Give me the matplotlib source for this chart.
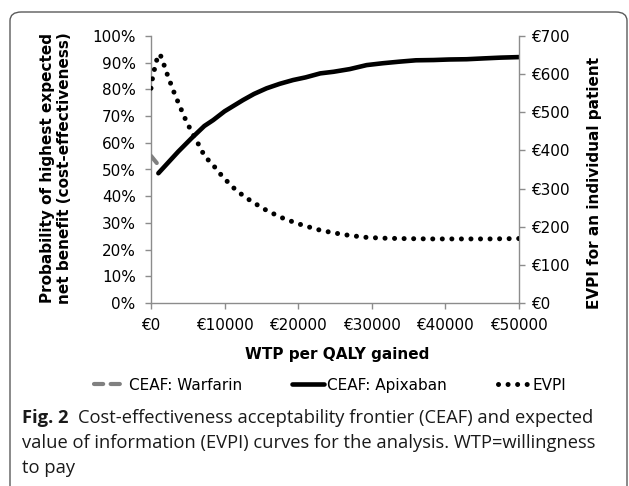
import matplotlib
matplotlib.use("Agg")
import matplotlib.pyplot as plt
from matplotlib.patches import FancyBboxPatch
from matplotlib.ticker import FuncFormatter, MultipleLocator
import numpy as np

# ---------------- data ----------------
wtp_warfarin = [0, 1000]
prob_warfarin = [0.551, 0.517]

wtp_apixaban = [1000, 3700, 5500, 7250, 8450, 10000, 12500, 14000, 15700, 17500,
                19300, 21000, 23000, 24800, 27000, 29300, 31500, 33800, 36000,
                38400, 40500, 42900, 45100, 47500, 50000]
prob_apixaban = [0.486, 0.567, 0.617, 0.663, 0.685, 0.718, 0.760, 0.783, 0.804, 0.821,
                 0.835, 0.845, 0.860, 0.866, 0.876, 0.891, 0.898, 0.904, 0.909,
                 0.910, 0.912, 0.913, 0.916, 0.919, 0.921]

wtp_evpi = [0, 160, 430, 680, 1220, 1670, 2080, 2490, 2950, 3400, 3900, 4390, 4930,
            5530, 6120, 6760, 7250, 8250, 9820, 11640, 13680, 15860, 18200, 20600,
            22960, 24770, 27000, 29300, 31500, 33800, 38000, 42000, 46000, 50000]
evpi = [563, 585, 609, 633, 653, 630, 606, 585, 561, 539, 517, 494, 471,
        449, 427, 406, 385, 366, 329, 294, 266, 241, 220, 204,
        191, 184, 177, 172, 170, 169, 168, 168, 168, 169]

x_ticks = [0, 10000, 20000, 30000, 40000, 50000]
series_labels = ["CEAF: Warfarin", "CEAF: Apixaban", "EVPI"]
left_label = "Probability of highest expected\nnet benefit (cost-effectiveness)"
right_label = "EVPI for an individual patient"
x_label = "WTP per QALY gained"
caption_bold = "Fig. 2"
caption_lines = ["Cost-effectiveness acceptability frontier (CEAF) and expected",
                 "value of information (EVPI) curves for the analysis. WTP=willingness",
                 "to pay"]

# ---------------- figure ----------------
W, H = 629, 486
fig = plt.figure(figsize=(W / 100, H / 100), dpi=100)

def fx(px):
    return px / W

def fy(py):
    return 1 - py / H

# rounded frame
frame = FancyBboxPatch((fx(10), fy(520)), fx(627) - fx(10), fy(12) - fy(520),
                       boxstyle="round,pad=0,rounding_size=0.018",
                       transform=fig.transFigure, fill=False,
                       edgecolor="#5a5a5a", linewidth=1.0, clip_on=False)
fig.patches.append(frame)

ax = fig.add_axes([fx(151), fy(303), fx(519) - fx(151), fy(36) - fy(303)])
ax2 = ax.twinx()

spine_col = "#8c8c8c"

ax.plot(wtp_warfarin, prob_warfarin, color="#808080", lw=3.0,
        linestyle=(0, (2.2, 1.8)), dash_capstyle="round", solid_capstyle="round",
        label=series_labels[0], zorder=3)
ax.plot(wtp_apixaban, prob_apixaban, color="black", lw=3.3,
        solid_capstyle="round", label=series_labels[1], zorder=3)
ax2.plot(wtp_evpi, evpi, color="black", lw=3.6, linestyle=(0, (0.01, 1.9)),
         dash_capstyle="round", label=series_labels[2], zorder=3)

ax.set_xlim(0, 50000)
ax.set_ylim(0, 1.0)
ax2.set_ylim(0, 700)
ax.set_xticks(x_ticks)
ax.xaxis.set_major_formatter(FuncFormatter(lambda v, p: "€%d" % v))
ax.yaxis.set_major_locator(MultipleLocator(0.1))
ax.yaxis.set_major_formatter(FuncFormatter(lambda v, p: "%d%%" % round(v * 100)))
ax2.yaxis.set_major_locator(MultipleLocator(100))
ax2.yaxis.set_major_formatter(FuncFormatter(lambda v, p: "€%d" % v))

for a in (ax, ax2):
    for s in a.spines.values():
        s.set_color(spine_col)
        s.set_linewidth(1.0)
    a.spines["top"].set_visible(False)
ax.spines["right"].set_visible(False)
ax2.spines["left"].set_visible(False)
ax2.spines["bottom"].set_visible(False)

ax.tick_params(axis="x", direction="out", length=4, width=1, color=spine_col,
               pad=7, labelsize=11, labelcolor="black")
ax.tick_params(axis="y", direction="out", length=4, width=1, color=spine_col,
               pad=7, labelsize=11, labelcolor="black")
ax2.tick_params(axis="y", direction="out", length=4, width=1, color=spine_col,
                pad=5, labelsize=11, labelcolor="black")

# axis labels as figure text
fig.text(fx(56), fy(168), left_label, rotation=90, ha="center", va="center",
         fontsize=11, fontweight="bold", multialignment="center", linespacing=1.15)
fig.text(fx(594), fy(183), right_label, rotation=90, ha="center", va="center",
         fontsize=11, fontweight="bold")
fig.text(fx(337), fy(355), x_label, ha="center", va="center",
         fontsize=11, fontweight="bold")

# legend
h1, l1 = ax.get_legend_handles_labels()
h2, l2 = ax2.get_legend_handles_labels()
fig.legend(h1 + h2, l1 + l2, loc="center", bbox_to_anchor=(fx(330), fy(385)),
           ncol=3, frameon=False, fontsize=11, handlelength=2.1,
           handletextpad=0.2, columnspacing=3.3, borderaxespad=0)

# caption
cap_font = "Open Sans"
cap_size = 13.2
renderer = fig.canvas.get_renderer()
tb = fig.text(fx(22), fy(423), caption_bold, ha="left", va="baseline",
              fontsize=cap_size, fontweight="bold", family=cap_font, color="#1a1a1a")
bb = tb.get_window_extent(renderer)
fig.text(fx(bb.x1 + 9), fy(423), caption_lines[0], ha="left", va="baseline",
         fontsize=cap_size, family=cap_font, color="#1a1a1a")
fig.text(fx(22), fy(448), caption_lines[1], ha="left", va="baseline",
         fontsize=cap_size, family=cap_font, color="#1a1a1a")
fig.text(fx(22), fy(473), caption_lines[2], ha="left", va="baseline",
         fontsize=cap_size, family=cap_font, color="#1a1a1a")

fig.savefig("out.png", dpi=100)
